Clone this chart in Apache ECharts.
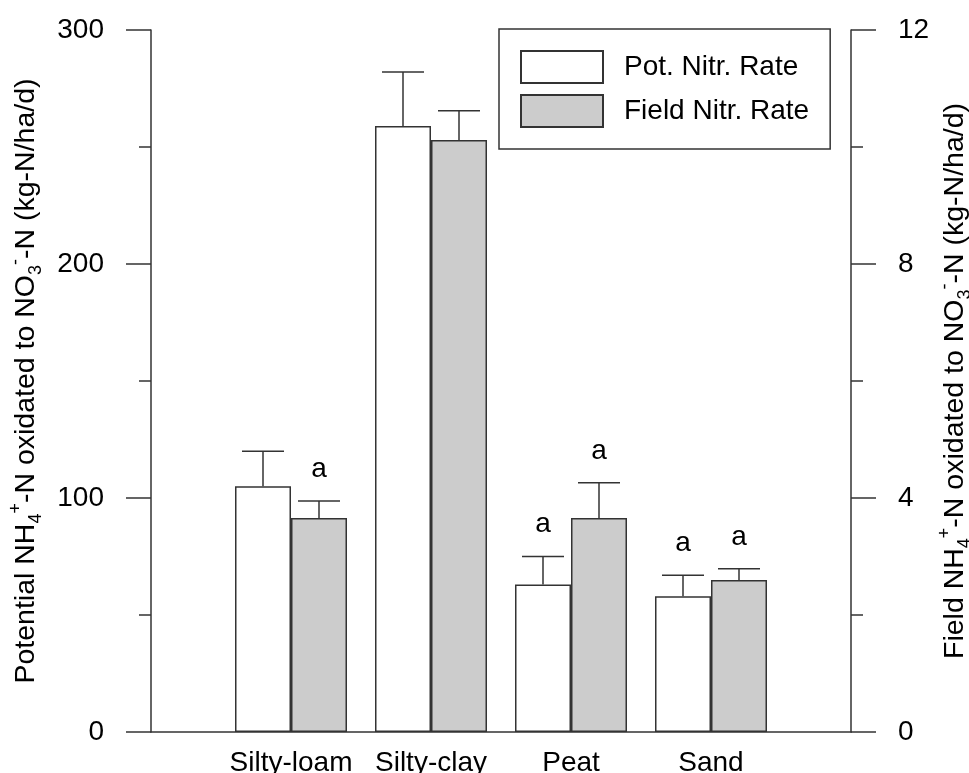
<!DOCTYPE html>
<html>
<head>
<meta charset="utf-8">
<script src="https://cdn.jsdelivr.net/npm/echarts@6/dist/echarts.min.js"></script>
<style>
html,body{margin:0;padding:0;background:#fff;}
#chart{width:969px;height:773px;}
</style>
</head>
<body>
<div id="chart"></div>
<script>
// ---- data ----
const categories = ['Silty-loam', 'Silty-clay', 'Peat', 'Sand'];
const potRate = [105, 259, 63, 58];          // left axis
const potErr = [15, 23, 12, 9];
const potLetters = ['', '', 'a', 'a'];
const fieldRate = [3.66, 10.12, 3.66, 2.6];   // right axis
const fieldErr = [0.29, 0.5, 0.6, 0.19];
const fieldLetters = ['a', '', 'a', 'a'];
const leftTicks = { min: 0, max: 300, interval: 100 };
const rightTicks = { min: 0, max: 12, interval: 4 };

const FONT = '"Liberation Sans", Arial, sans-serif';
const LINE = '#333';
const axisData = [''].concat(categories, ['']);

function barData(vals) { return vals.map((v, i) => [i + 1, v]); }
function errData(vals, errs) { return vals.map((v, i) => [i + 1, v, v + errs[i]]); }

function errRender(offset, letters) {
  return function (params, api) {
    const x = api.value(0), mean = api.value(1), up = api.value(2);
    const p0 = api.coord([x, mean]);
    const p1 = api.coord([x, up]);
    const cx = p0[0] + offset;
    const st = { stroke: LINE, lineWidth: 1.5 };
    const children = [
      { type: 'line', shape: { x1: cx, y1: p0[1], x2: cx, y2: p1[1] }, style: st },
      { type: 'line', shape: { x1: cx - 21, y1: p1[1], x2: cx + 21, y2: p1[1] }, style: st }
    ];
    const letter = letters[params.dataIndex];
    if (letter) {
      children.push({ type: 'text', style: { text: letter, x: cx, y: p1[1] - 32, align: 'center', verticalAlign: 'middle', fontSize: 28, fontFamily: FONT, fill: '#000' } });
    }
    return { type: 'group', children: children };
  };
}

const nameRich = {
  n: { fontSize: 28.5, fontFamily: FONT, color: '#000', lineHeight: 38, verticalAlign: 'middle' },
  sub: { fontSize: 18, fontFamily: FONT, color: '#000', lineHeight: 18, verticalAlign: 'bottom' },
  sup: { fontSize: 18, fontFamily: FONT, color: '#000', lineHeight: 18, verticalAlign: 'top' }
};

function yAxisCfg(t, name, gap) {
  return {
    type: 'value', min: t.min, max: t.max, interval: t.interval,
    name: name, nameLocation: 'middle', nameRotate: 90, nameGap: gap,
    nameMoveOverlap: false,
    nameTextStyle: { rich: nameRich },
    axisLine: { show: true, lineStyle: { color: LINE, width: 1.5 } },
    axisTick: { show: true, inside: false, length: 25, lineStyle: { color: LINE, width: 1.5 } },
    minorTick: { show: true, splitNumber: 2, length: 12, lineStyle: { color: LINE, width: 1.5 } },
    axisLabel: { fontSize: 28, fontFamily: FONT, color: '#000', margin: 47 },
    splitLine: { show: false }
  };
}

const chart = echarts.init(document.getElementById('chart'), null, { renderer: 'canvas' });
chart.setOption({
  animation: false,
  backgroundColor: '#fff',
  grid: { left: 151, right: 118, top: 30, bottom: 41, containLabel: false, outerBoundsMode: 'none' },
  legend: {
    data: ['Pot. Nitr. Rate', 'Field Nitr. Rate'],
    orient: 'vertical', left: 499, top: 29,
    padding: 21, itemGap: 10, itemWidth: 82, itemHeight: 32,
    icon: 'rect',
    borderColor: LINE, borderWidth: 1.5,
    selectedMode: false,
    textStyle: { fontSize: 28, fontFamily: FONT, color: '#000', padding: [0, 0, 0, 16] }
  },
  xAxis: {
    type: 'category', data: axisData, boundaryGap: false,
    axisLine: { show: true, lineStyle: { color: LINE, width: 1.5 } },
    axisTick: { show: false },
    axisLabel: { interval: 0, fontSize: 28, fontFamily: FONT, color: '#000', margin: 17 },
    splitLine: { show: false }
  },
  yAxis: [
    yAxisCfg(leftTicks, '{n|Potential NH}{sub|4}{sup|+}{n|-N oxidated to NO}{sub|3}{sup|-}{n|-N (kg-N/ha/d)}', 106),
    yAxisCfg(rightTicks, '{n|Field NH}{sub|4}{sup|+}{n|-N oxidated to NO}{sub|3}{sup|-}{n|-N (kg-N/ha/d)}', 85)
  ],
  series: [
    {
      name: 'Pot. Nitr. Rate', type: 'bar', xAxisIndex: 0, yAxisIndex: 0,
      data: barData(potRate), barWidth: 56, barGap: '0%',
      itemStyle: { color: '#ffffff', borderColor: LINE, borderWidth: 1.5 }
    },
    {
      name: 'Field Nitr. Rate', type: 'bar', xAxisIndex: 0, yAxisIndex: 1,
      data: barData(fieldRate), barWidth: 56, barGap: '0%',
      itemStyle: { color: '#cccccc', borderColor: LINE, borderWidth: 1.5 }
    },
    {
      type: 'custom', xAxisIndex: 0, yAxisIndex: 0, z: 5,
      data: errData(potRate, potErr), renderItem: errRender(-28, potLetters)
    },
    {
      type: 'custom', xAxisIndex: 0, yAxisIndex: 1, z: 5,
      data: errData(fieldRate, fieldErr), renderItem: errRender(28, fieldLetters)
    }
  ]
});
</script>
</body>
</html>
